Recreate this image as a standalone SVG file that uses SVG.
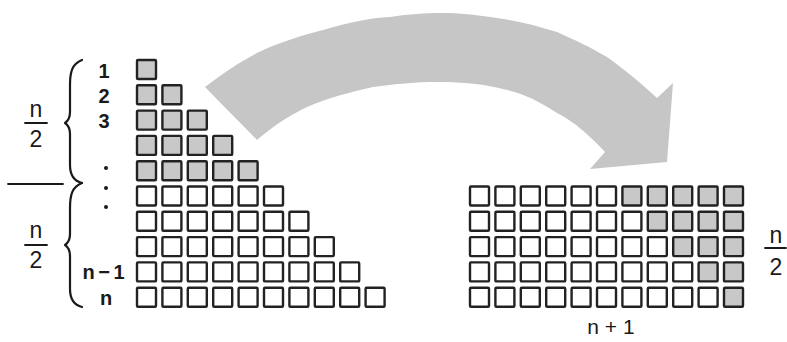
<svg xmlns="http://www.w3.org/2000/svg" width="787" height="342" viewBox="0 0 787 342">
<defs>
<style>
.sq{stroke:#222;stroke-width:2.4;stroke-linejoin:round}
.g{fill:#c8c8c8}
.w{fill:#fff}
.lbl{font-family:"Liberation Sans",Arial,sans-serif;font-weight:bold;font-size:20px;fill:#1a1a1a;text-anchor:middle}
.frac{font-family:"Liberation Sans",Arial,sans-serif;font-size:23px;fill:#1a1a1a;text-anchor:middle}
.ln{stroke:#1a1a1a;stroke-width:1.8;fill:none;stroke-linecap:round}
.br{stroke:#1a1a1a;stroke-width:2.2;fill:none;stroke-linecap:round;stroke-linejoin:round}
</style>
<rect id="s" width="19" height="19" rx="1"/>
</defs>
<rect width="787" height="342" fill="#fff"/>

<g id="connectors">
<path id="arrow" fill="#c6c6c6" d="M205,87 C225,72 240,62 257,53 C280,42 300,36 323,30 C350,22 370,18 390,17 C410,14 425,13 440,13 C460,13 475,15 490,17 C515,20 535,25 557,32 C575,40 590,47 607,57 C625,70 640,82 657,98 L673,83 L667,162 L590,169 L605,152 C590,136 575,122 557,113 C540,102 525,94 507,90 C485,84 462,82 440,82 C415,82 395,84 373,87 C350,92 328,98 307,107 C288,116 272,127 257,140 C240,122 222,105 205,87 Z"/>
</g>

<g id="triangle">
<g id="row1" class="sq g"><use href="#s" x="137" y="60"/></g>
<g id="row2" class="sq g"><use href="#s" x="137" y="85.3"/><use href="#s" x="162.4" y="85.3"/></g>
<g id="row3" class="sq g"><use href="#s" x="137" y="110.6"/><use href="#s" x="162.4" y="110.6"/><use href="#s" x="187.8" y="110.6"/></g>
<g id="row4" class="sq g"><use href="#s" x="137" y="135.9"/><use href="#s" x="162.4" y="135.9"/><use href="#s" x="187.8" y="135.9"/><use href="#s" x="213.2" y="135.9"/></g>
<g id="row5" class="sq g"><use href="#s" x="137" y="161.2"/><use href="#s" x="162.4" y="161.2"/><use href="#s" x="187.8" y="161.2"/><use href="#s" x="213.2" y="161.2"/><use href="#s" x="238.6" y="161.2"/></g>
<g id="row6" class="sq w"><use href="#s" x="137" y="186.5"/><use href="#s" x="162.4" y="186.5"/><use href="#s" x="187.8" y="186.5"/><use href="#s" x="213.2" y="186.5"/><use href="#s" x="238.6" y="186.5"/><use href="#s" x="264" y="186.5"/></g>
<g id="row7" class="sq w"><use href="#s" x="137" y="211.8"/><use href="#s" x="162.4" y="211.8"/><use href="#s" x="187.8" y="211.8"/><use href="#s" x="213.2" y="211.8"/><use href="#s" x="238.6" y="211.8"/><use href="#s" x="264" y="211.8"/><use href="#s" x="289.4" y="211.8"/></g>
<g id="row8" class="sq w"><use href="#s" x="137" y="237.1"/><use href="#s" x="162.4" y="237.1"/><use href="#s" x="187.8" y="237.1"/><use href="#s" x="213.2" y="237.1"/><use href="#s" x="238.6" y="237.1"/><use href="#s" x="264" y="237.1"/><use href="#s" x="289.4" y="237.1"/><use href="#s" x="314.8" y="237.1"/></g>
<g id="row9" class="sq w"><use href="#s" x="137" y="262.4"/><use href="#s" x="162.4" y="262.4"/><use href="#s" x="187.8" y="262.4"/><use href="#s" x="213.2" y="262.4"/><use href="#s" x="238.6" y="262.4"/><use href="#s" x="264" y="262.4"/><use href="#s" x="289.4" y="262.4"/><use href="#s" x="314.8" y="262.4"/><use href="#s" x="340.2" y="262.4"/></g>
<g id="row10" class="sq w"><use href="#s" x="137" y="287.7"/><use href="#s" x="162.4" y="287.7"/><use href="#s" x="187.8" y="287.7"/><use href="#s" x="213.2" y="287.7"/><use href="#s" x="238.6" y="287.7"/><use href="#s" x="264" y="287.7"/><use href="#s" x="289.4" y="287.7"/><use href="#s" x="314.8" y="287.7"/><use href="#s" x="340.2" y="287.7"/><use href="#s" x="365.6" y="287.7"/></g>
</g>

<g id="rectangle">
<g id="rrow1"><g class="sq w"><use href="#s" x="470" y="186.5"/><use href="#s" x="495.4" y="186.5"/><use href="#s" x="520.8" y="186.5"/><use href="#s" x="546.2" y="186.5"/><use href="#s" x="571.6" y="186.5"/><use href="#s" x="597" y="186.5"/></g><g class="sq g"><use href="#s" x="622.4" y="186.5"/><use href="#s" x="647.8" y="186.5"/><use href="#s" x="673.2" y="186.5"/><use href="#s" x="698.6" y="186.5"/><use href="#s" x="724" y="186.5"/></g></g>
<g id="rrow2"><g class="sq w"><use href="#s" x="470" y="211.8"/><use href="#s" x="495.4" y="211.8"/><use href="#s" x="520.8" y="211.8"/><use href="#s" x="546.2" y="211.8"/><use href="#s" x="571.6" y="211.8"/><use href="#s" x="597" y="211.8"/><use href="#s" x="622.4" y="211.8"/></g><g class="sq g"><use href="#s" x="647.8" y="211.8"/><use href="#s" x="673.2" y="211.8"/><use href="#s" x="698.6" y="211.8"/><use href="#s" x="724" y="211.8"/></g></g>
<g id="rrow3"><g class="sq w"><use href="#s" x="470" y="237.1"/><use href="#s" x="495.4" y="237.1"/><use href="#s" x="520.8" y="237.1"/><use href="#s" x="546.2" y="237.1"/><use href="#s" x="571.6" y="237.1"/><use href="#s" x="597" y="237.1"/><use href="#s" x="622.4" y="237.1"/><use href="#s" x="647.8" y="237.1"/></g><g class="sq g"><use href="#s" x="673.2" y="237.1"/><use href="#s" x="698.6" y="237.1"/><use href="#s" x="724" y="237.1"/></g></g>
<g id="rrow4"><g class="sq w"><use href="#s" x="470" y="262.4"/><use href="#s" x="495.4" y="262.4"/><use href="#s" x="520.8" y="262.4"/><use href="#s" x="546.2" y="262.4"/><use href="#s" x="571.6" y="262.4"/><use href="#s" x="597" y="262.4"/><use href="#s" x="622.4" y="262.4"/><use href="#s" x="647.8" y="262.4"/><use href="#s" x="673.2" y="262.4"/></g><g class="sq g"><use href="#s" x="698.6" y="262.4"/><use href="#s" x="724" y="262.4"/></g></g>
<g id="rrow5"><g class="sq w"><use href="#s" x="470" y="287.7"/><use href="#s" x="495.4" y="287.7"/><use href="#s" x="520.8" y="287.7"/><use href="#s" x="546.2" y="287.7"/><use href="#s" x="571.6" y="287.7"/><use href="#s" x="597" y="287.7"/><use href="#s" x="622.4" y="287.7"/><use href="#s" x="647.8" y="287.7"/><use href="#s" x="673.2" y="287.7"/><use href="#s" x="698.6" y="287.7"/></g><g class="sq g"><use href="#s" x="724" y="287.7"/></g></g>
</g>

<g id="row-labels">
<text class="lbl" x="104" y="78">1</text>
<text class="lbl" x="104" y="103">2</text>
<text class="lbl" x="104" y="128">3</text>
<circle cx="106" cy="168" r="2" fill="#1a1a1a"/>
<circle cx="106" cy="188" r="2" fill="#1a1a1a"/>
<circle cx="106" cy="207" r="2" fill="#1a1a1a"/>
<text class="lbl" x="103" y="279" letter-spacing="-1">n − 1</text>
<text class="lbl" x="106" y="305">n</text>
</g>

<g id="braces">
<path class="br" d="M82,60 C72,64 70,72 70,85 L70,112 C70,118 68,121 65,123 C68,125 70,128 70,134 L70,165 C70,176 74,181 82,183"/>
<path class="br" d="M82,183 C72,187 70,195 70,208 L70,234 C70,240 68,243 65,245 C68,247 70,250 70,256 L70,289 C70,300 74,305 82,307"/>
<line class="ln" x1="8" y1="184" x2="63" y2="184"/>
</g>

<g id="fraction-top">
<text class="frac" x="36" y="117">n</text>
<line class="ln" x1="25" y1="123" x2="47" y2="123"/>
<text class="frac" x="36" y="147">2</text>
</g>
<g id="fraction-bottom">
<text class="frac" x="36" y="238">n</text>
<line class="ln" x1="25" y1="245" x2="47" y2="245"/>
<text class="frac" x="36" y="268">2</text>
</g>
<g id="fraction-right">
<text class="frac" x="776" y="243">n</text>
<line class="ln" x1="765" y1="248" x2="786" y2="248"/>
<text class="frac" x="776" y="275">2</text>
</g>
<g id="width-label">
<text x="611" y="334" font-family="'Liberation Sans',Arial,sans-serif" font-size="21" fill="#1a1a1a" text-anchor="middle">n + 1</text>
</g>
</svg>
